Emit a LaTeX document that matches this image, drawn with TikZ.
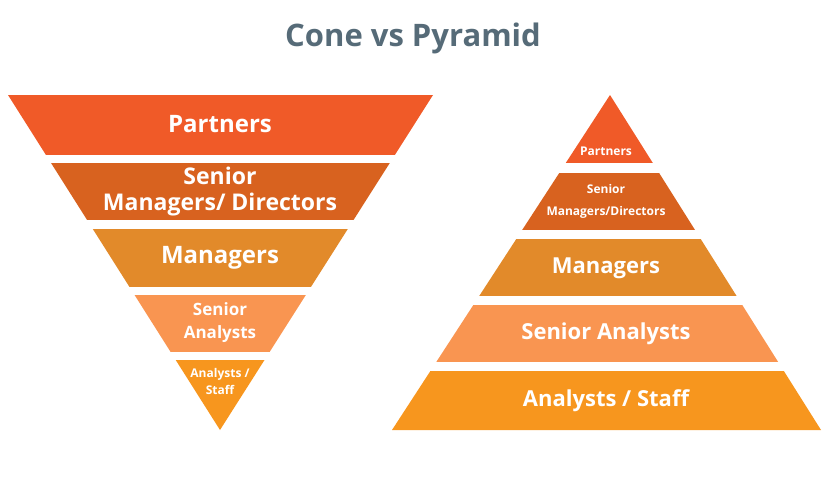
\documentclass[tikz,border=0pt]{standalone}
\usepackage{fontspec}
\setmainfont{Open Sans}
\definecolor{partnerred}{HTML}{F05A28}
\definecolor{seniorbrown}{HTML}{D8621F}
\definecolor{managerorange}{HTML}{E28A2A}
\definecolor{analystpeach}{HTML}{F99551}
\definecolor{staffamber}{HTML}{F7961E}
\definecolor{titlegray}{HTML}{566B78}
\tikzset{
  bandtext/.style={text=white, font=\bfseries, align=center, inner sep=0pt},
}
\begin{document}
\begin{tikzpicture}[x=1pt,y=-1pt]
\useasboundingbox (0,0) rectangle (826,495);
\node (title) at (413,38) [text=titlegray, font=\bfseries\fontsize{31}{36}\selectfont] {Cone vs Pyramid};
% cone
\begin{scope}
\clip (8,95) -- (433,95) -- (220,430) -- cycle;
\fill [partnerred] (0,95) rectangle (440,155);
\fill [seniorbrown] (0,163) rectangle (440,220);
\fill [managerorange] (0,229) rectangle (440,287);
\fill [analystpeach] (0,295) rectangle (440,352);
\fill [staffamber] (0,360) rectangle (440,431);
\end{scope}
\node (c1) at (220,124) [bandtext, font=\bfseries\fontsize{24}{27}\selectfont] {Partners};
\node (c2) at (220,192) [bandtext, font=\bfseries\fontsize{23}{26}\selectfont] {Senior\\Managers/ Directors};
\node (c3) at (220,258) [bandtext, font=\bfseries\fontsize{24}{27}\selectfont] {Managers};
\node (c4) at (220,323) [bandtext, font=\bfseries\fontsize{17}{23}\selectfont] {Senior\\Analysts};
\node (c5) at (220,381) [bandtext, font=\bfseries\fontsize{12}{17}\selectfont] {Analysts /\\Staff};
% pyramid
\begin{scope}
\clip (610,95) -- (821,430) -- (392,430) -- cycle;
\fill [partnerred] (380,90) rectangle (830,163);
\fill [seniorbrown] (380,173) rectangle (830,230);
\fill [managerorange] (380,239) rectangle (830,296);
\fill [analystpeach] (380,305) rectangle (830,362);
\fill [staffamber] (380,371) rectangle (830,431);
\end{scope}
\node (p1) at (606,151) [bandtext, font=\bfseries\fontsize{12}{14}\selectfont] {Partners};
\node (p2) at (606,201) [bandtext, font=\bfseries\fontsize{12}{22}\selectfont] {Senior\\Managers/Directors};
\node (p3) at (606,268) [bandtext, font=\bfseries\fontsize{22}{26}\selectfont] {Managers};
\node (p4) at (606,334) [bandtext, font=\bfseries\fontsize{22}{26}\selectfont] {Senior Analysts};
\node (p5) at (606,401) [bandtext, font=\bfseries\fontsize{22}{26}\selectfont] {Analysts / Staff};
\end{tikzpicture}
\end{document}
